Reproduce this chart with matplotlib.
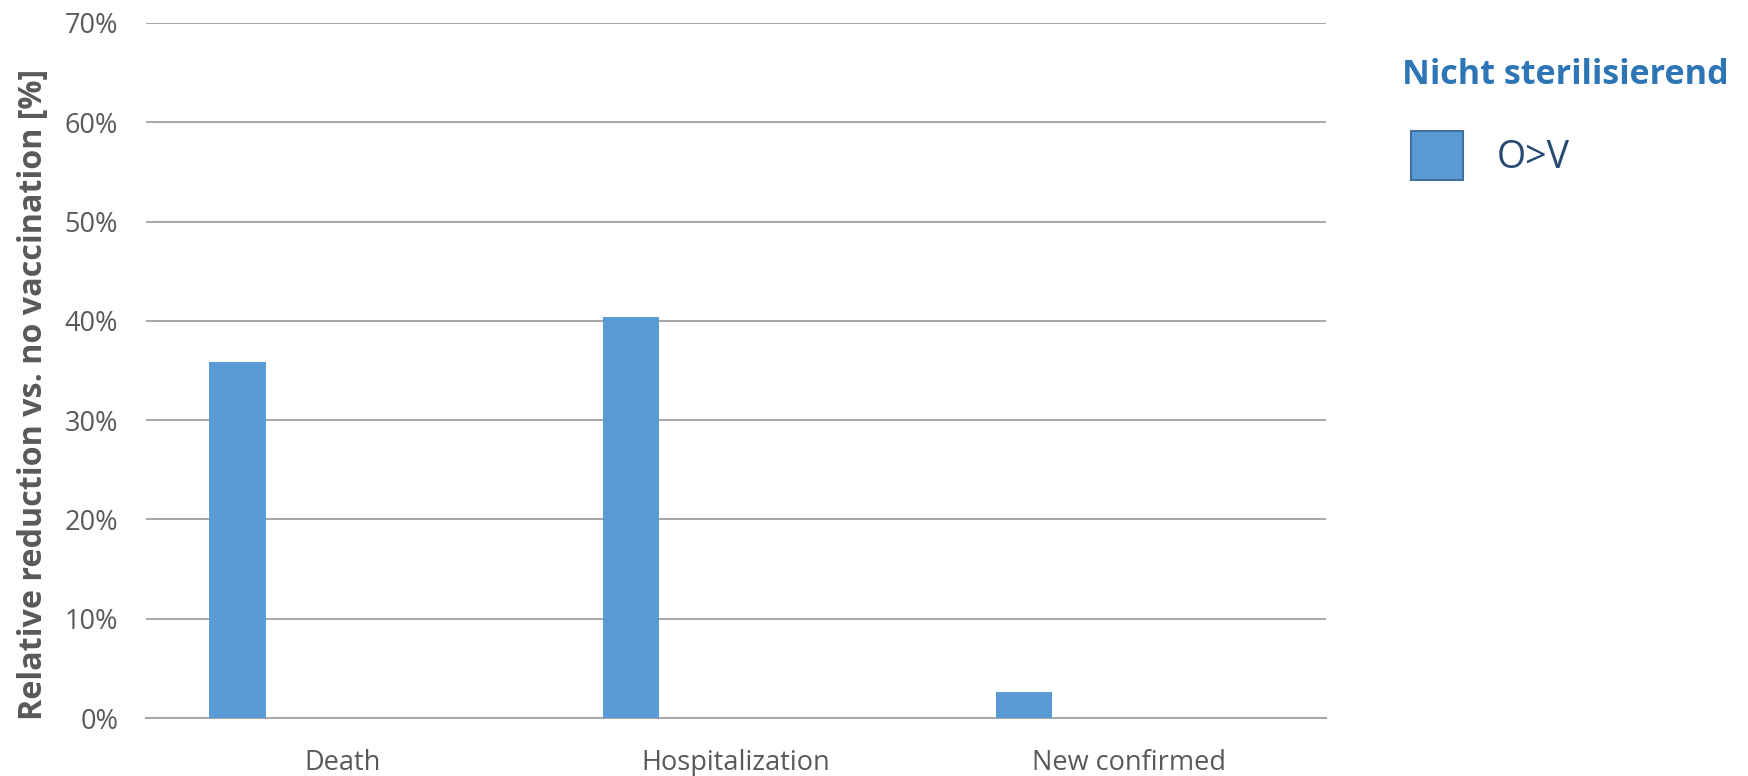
import matplotlib
matplotlib.use("Agg")
import matplotlib.pyplot as plt
from matplotlib.patches import Rectangle
from matplotlib.ticker import FuncFormatter

categories = ["Death", "Hospitalization", "New confirmed"]
series_name = "O>V"
legend_title = "Nicht sterilisierend"
values = [35.9, 40.4, 2.6]
y_ticks = [0, 10, 20, 30, 40, 50, 60, 70]
y_label = "Relative reduction vs. no vaccination [%]"

BAR = "#5B9BD5"
GRID = "#A6A6A6"
TXT = "#595959"

fig = plt.figure(figsize=(17.48, 7.76), dpi=100)
ax = fig.add_axes([0.0835, 0.0747, 0.6748, 0.8957])

x = list(range(len(categories)))
ax.bar([i - 0.267 for i in x], values, width=0.1434, color=BAR, zorder=3)

ax.set_xlim(-0.5, len(categories) - 0.5)
ax.set_ylim(0, 70)
ax.set_yticks(y_ticks)
ax.yaxis.set_major_formatter(FuncFormatter(lambda v, p: f"{v:.0f}%"))
ax.set_xticks(x)
ax.set_xticklabels(categories)
ax.grid(axis="y", color=GRID, linewidth=1.4, zorder=0)
for s in ["top", "right", "left"]:
    ax.spines[s].set_visible(False)
ax.spines["bottom"].set_color(GRID)
ax.spines["bottom"].set_linewidth(1.4)
ax.tick_params(axis="both", length=0, labelcolor=TXT, labelsize=19.5)
ax.tick_params(axis="y", pad=20)
ax.tick_params(axis="x", pad=22)
for lab in ax.get_xticklabels() + ax.get_yticklabels():
    lab.set_fontfamily(["Open Sans", "DejaVu Sans"])

fig.text(0.019, 0.492, y_label, rotation=90, ha="center", va="center",
         fontsize=23.2, fontweight="bold", color=TXT,
         family=["Liberation Sans Narrow", "Open Sans", "DejaVu Sans"])

# legend drawn in figure coordinates
fig.text(0.8021, 0.903, legend_title, ha="left", va="center", fontsize=24.6,
         fontweight="bold", color="#2E75B6", family=["Open Sans", "DejaVu Sans"])
fig.patches.append(Rectangle((0.8072, 0.768), 0.0297, 0.063, transform=fig.transFigure,
                             facecolor=BAR, edgecolor="#41719C", linewidth=1.5))
fig.text(0.8564, 0.797, series_name, ha="left", va="center", fontsize=27,
         color="#264A72", family=["Open Sans", "DejaVu Sans"])

fig.savefig("out.png", dpi=100)
